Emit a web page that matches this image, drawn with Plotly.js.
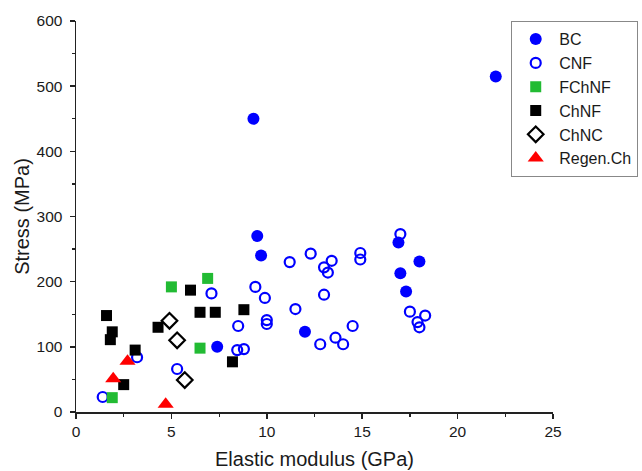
<!DOCTYPE html>
<html>
<head>
<meta charset="utf-8">
<script src="https://cdn.plot.ly/plotly-3.0.1.min.js"></script>
<style>
  html, body { margin: 0; padding: 0; background: #fff; }
  #chart { width: 642px; height: 471px; }
</style>
</head>
<body>
<div id="chart"></div>
<script>
// Elastic modulus (GPa) vs tensile stress (MPa) for nanocellulose / chitin materials
const bcModulus = [7.4, 9.3, 9.5, 9.7, 12.0, 16.9, 17.0, 17.3, 18.0, 22.0];
const bcStress  = [100, 450, 270, 240, 123, 260, 213, 185, 231, 515];

const cnfModulus = [1.4, 3.2, 5.3, 7.1, 8.5, 8.45, 8.8, 9.4, 9.9, 10.0, 10.0,
                    11.2, 12.3, 13.0, 13.4, 13.2, 13.0, 11.5, 12.8, 13.6, 14.0,
                    14.5, 14.9, 14.9, 17.0, 17.5, 18.3, 17.9, 18.0];
const cnfStress  = [23, 84, 66, 182, 132, 95, 96.5, 192, 175, 141, 135,
                    230, 243, 222, 232, 214, 180, 158, 104, 114, 104,
                    132, 244, 234, 273, 154, 148, 138, 130];

const fchnfModulus = [5.0, 6.9, 6.5, 1.9];
const fchnfStress  = [192, 205, 98, 22];

const chnfModulus = [1.6, 1.9, 1.8, 3.1, 2.5, 4.3, 6.0, 6.5, 7.3, 8.8, 8.2];
const chnfStress  = [148, 123, 111, 95, 42, 130, 187, 153, 153, 157, 77];

const chncModulus = [4.9, 5.3, 5.7];
const chncStress  = [140, 110, 49];

const regenModulus = [1.95, 2.7, 4.7];
const regenStress  = [51, 78, 12];

const seriesNames = ['BC', 'CNF', 'FChNF', 'ChNF', 'ChNC', 'Regen.Ch'];

const FONT = 'Liberation Sans, Arial, sans-serif';

const traces = [
  { x: bcModulus, y: bcStress, name: seriesNames[0],
    marker: { symbol: 'circle', size: 12, color: '#0000ff' } },
  { x: cnfModulus, y: cnfStress, name: seriesNames[1],
    marker: { symbol: 'circle-open', size: 10, color: '#0000ff', line: { width: 2.2, color: '#0000ff' } } },
  { x: fchnfModulus, y: fchnfStress, name: seriesNames[2],
    marker: { symbol: 'square', size: 11, color: '#22bb33' } },
  { x: chnfModulus, y: chnfStress, name: seriesNames[3],
    marker: { symbol: 'square', size: 11, color: '#000000' } },
  { x: chncModulus, y: chncStress, name: seriesNames[4],
    marker: { symbol: 'diamond-open', size: 12, color: '#000000', line: { width: 2.2, color: '#000000' } } },
  { x: regenModulus, y: regenStress, name: seriesNames[5],
    marker: { symbol: 'triangle-up', size: 14, color: '#ff0000' } }
].map(t => Object.assign({ type: 'scatter', mode: 'markers', cliponaxis: false }, t));

const axisCommon = {
  showline: true, linecolor: '#222', linewidth: 1.5,
  ticks: 'outside', ticklen: 5, tickwidth: 1.5, tickcolor: '#222',
  showgrid: false, zeroline: false, mirror: false,
  tickfont: { family: FONT, size: 15.5, color: '#1a1a1a' },
  minor: { ticks: 'outside', ticklen: 3, tickwidth: 1.2, tickcolor: '#222' }
};

const layout = {
  width: 642, height: 471,
  margin: { l: 75.5, r: 89, t: 21, b: 59.3, autoexpand: false },
  paper_bgcolor: '#fff', plot_bgcolor: '#fff',
  showlegend: true,
  xaxis: Object.assign({}, axisCommon, {
    range: [0, 25], dtick: 5, minor: Object.assign({}, axisCommon.minor, { dtick: 2.5 }),
    title: { text: 'Elastic modulus (GPa)', standoff: 13,
             font: { family: FONT, size: 20, color: '#1a1a1a' } }
  }),
  yaxis: Object.assign({}, axisCommon, {
    range: [0, 600], dtick: 100, minor: Object.assign({}, axisCommon.minor, { dtick: 50 }),
    ticklabelstandoff: 4,
    title: { text: 'Stress (MPa)', standoff: 1,
             font: { family: FONT, size: 20, color: '#1a1a1a' } }
  }),
  legend: {
    x: 0.912, xanchor: 'left', y: 1.0, yanchor: 'top',
    bgcolor: '#fff', bordercolor: '#888', borderwidth: 1.2,
    itemwidth: 37,
    font: { family: FONT, size: 16, color: '#1a1a1a' }
  }
};

Plotly.newPlot('chart', traces, layout, { displayModeBar: false, staticPlot: true });
</script>
</body>
</html>
